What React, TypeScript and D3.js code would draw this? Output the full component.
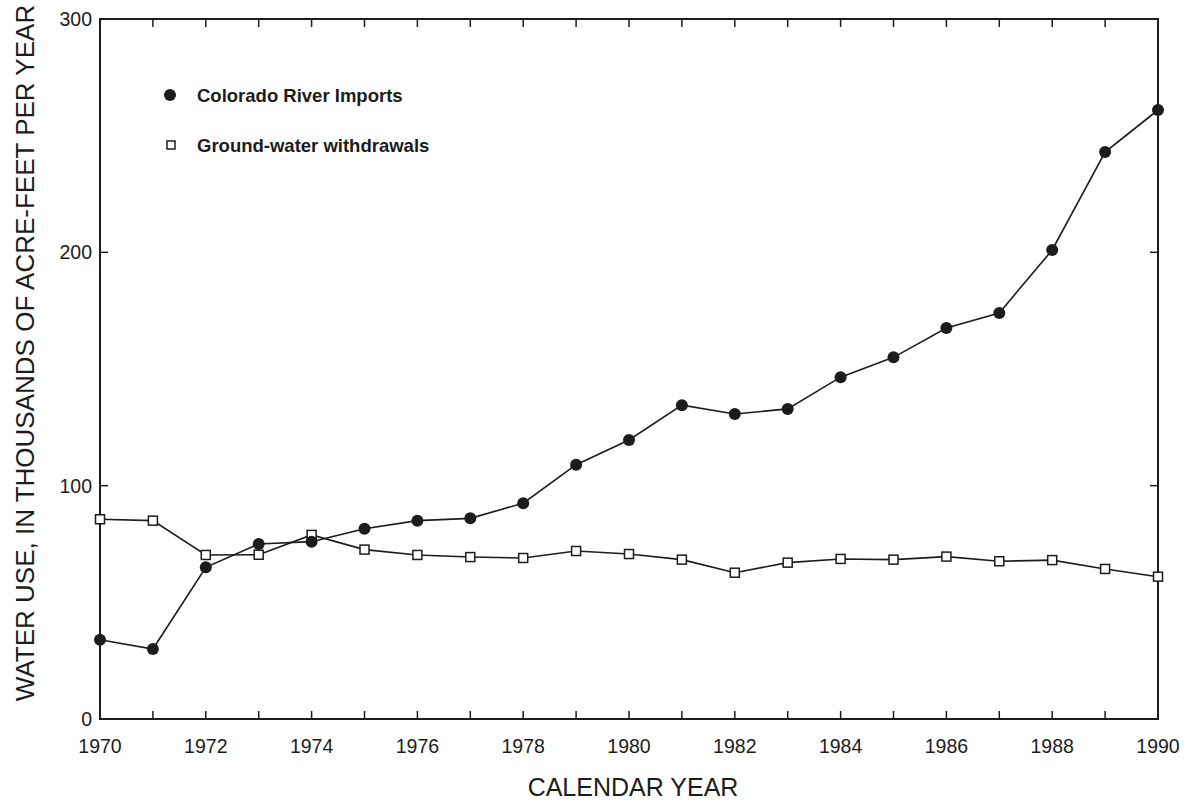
import React from "react";
import * as d3 from "d3";

const years = [1970,1971,1972,1973,1974,1975,1976,1977,1978,1979,1980,1981,1982,1983,1984,1985,1986,1987,1988,1989,1990];
const coloradoImports = [34,30,65,75,76,81.5,85,86,92.5,109,119.6,134.5,130.7,132.9,146.5,155,167.6,174,201,243,261];
const groundWater = [85.6,85,70.3,70.4,78.9,72.6,70.3,69.4,69,72,70.7,68.3,62.7,67,68.6,68.3,69.6,67.6,68.1,64.3,61];
const xTickLabels = [1970,1972,1974,1976,1978,1980,1982,1984,1986,1988,1990];
const yTickValues = [0,100,200,300];

const W = 1188, H = 803;
const M = { left: 100, right: 1158, top: 19, bottom: 719 };
const INK = "#1c1c1c";
const FONT = "'Liberation Sans', Arial, Helvetica, sans-serif";

export default function App() {
  const x = d3.scaleLinear().domain([1970, 1990]).range([M.left, M.right]);
  const y = d3.scaleLinear().domain([0, 300]).range([M.bottom, M.top]);
  const line = d3.line<[number, number]>().x(d => x(d[0])).y(d => y(d[1]));
  const cData = years.map((yr, i) => [yr, coloradoImports[i]] as [number, number]);
  const gData = years.map((yr, i) => [yr, groundWater[i]] as [number, number]);
  const tickLen = 8;

  return (
    <svg width={W} height={H} style={{ position: "absolute", left: 0, top: 0, background: "#fff" }}>
      <rect x={0} y={0} width={W} height={H} fill="#fff" />
      <rect x={M.left} y={M.top} width={M.right - M.left} height={M.bottom - M.top} fill="none" stroke={INK} strokeWidth={2} />
      {years.map(yr => (
        <g key={yr}>
          <line x1={x(yr)} x2={x(yr)} y1={M.bottom} y2={M.bottom - tickLen} stroke={INK} strokeWidth={1.5} />
          <line x1={x(yr)} x2={x(yr)} y1={M.top} y2={M.top + tickLen} stroke={INK} strokeWidth={1.5} />
        </g>
      ))}
      {yTickValues.slice(1, -1).map(v => (
        <g key={v}>
          <line x1={M.left} x2={M.left + tickLen} y1={y(v)} y2={y(v)} stroke={INK} strokeWidth={1.5} />
          <line x1={M.right} x2={M.right - tickLen} y1={y(v)} y2={y(v)} stroke={INK} strokeWidth={1.5} />
        </g>
      ))}
      {yTickValues.map(v => (
        <text key={v} x={M.left - 8} y={y(v)} dy="0.36em" textAnchor="end" fontFamily={FONT} fontSize={19.5} fill={INK}>{v}</text>
      ))}
      {xTickLabels.map(v => (
        <text key={v} x={x(v)} y={M.bottom + 34} textAnchor="middle" fontFamily={FONT} fontSize={19.5} fill={INK}>{v}</text>
      ))}
      <text x={633} y={796} textAnchor="middle" fontFamily={FONT} fontSize={25} fill={INK}>CALENDAR YEAR</text>
      <text transform={`translate(34, 353) rotate(-90)`} textAnchor="middle" fontFamily={FONT} fontSize={26} fill={INK}>
        WATER USE, IN THOUSANDS OF ACRE-FEET PER YEAR
      </text>
      <path d={line(gData) || ""} fill="none" stroke={INK} strokeWidth={1.6} />
      <path d={line(cData) || ""} fill="none" stroke={INK} strokeWidth={1.6} />
      {gData.map((d, i) => (
        <rect key={"g" + i} x={x(d[0]) - 4.5} y={y(d[1]) - 4.5} width={9} height={9} fill="#fff" stroke={INK} strokeWidth={1.5} />
      ))}
      {cData.map((d, i) => (
        <circle key={"c" + i} cx={x(d[0])} cy={y(d[1])} r={6} fill={INK} />
      ))}
      <circle cx={170} cy={95} r={6} fill={INK} />
      <text x={197} y={95} dy="0.36em" fontFamily={FONT} fontSize={18.5} fontWeight="bold" fill={INK}>Colorado River Imports</text>
      <rect x={167} y={141} width={8} height={8} fill="#fff" stroke={INK} strokeWidth={1.5} />
      <text x={197} y={145} dy="0.36em" fontFamily={FONT} fontSize={18.5} fontWeight="bold" fill={INK}>Ground-water withdrawals</text>
    </svg>
  );
}
